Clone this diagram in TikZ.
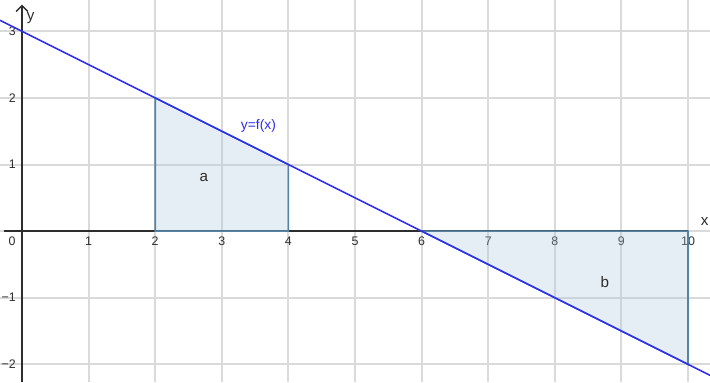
\documentclass[tikz,border=0pt]{standalone}
\usepackage{fontspec}
\setmainfont{Liberation Sans}
\usepackage{tikz}
\usetikzlibrary{arrows.meta, positioning, calc}
\definecolor{gridgray}{RGB}{218,218,218}
\definecolor{axisdark}{RGB}{45,45,45}
\definecolor{fblue}{RGB}{45,45,240}
\definecolor{areaedge}{RGB}{85,130,165}
\definecolor{areafill}{RGB}{170,200,220}
\tikzset{
  gridline/.style={draw, line width=0.85pt, color=gridgray},
  axis/.style={draw, line width=0.6pt, color=axisdark},
  tick/.style={font=\fontsize{5.3}{6}\selectfont, color=axisdark, inner sep=0.5pt},
  area/.style={draw=areaedge, line width=0.7pt, fill=areafill, fill opacity=0.3},
  graph/.style={draw, line width=0.65pt, color=fblue}
}

\begin{document}
\begin{tikzpicture}
  \useasboundingbox (-0.33,-2.27) rectangle (10.33,3.47);

  % ═══════════════════════════════════════════════════════════════════════════════
  % GRID
  % ═══════════════════════════════════════════════════════════════════════════════
  \foreach \x in {1,...,10}
    \draw[gridline] (\x,-2.27) -- (\x,3.47);
  \foreach \y in {-2,...,3}
    \draw[gridline] (-0.33,\y) -- (10.33,\y);

  % ═══════════════════════════════════════════════════════════════════════════════
  % AXES
  % ═══════════════════════════════════════════════════════════════════════════════
  \coordinate (xL) at (-0.27,0);
  \coordinate (xR) at (10,0);
  \coordinate (yB) at (0,-2.27);
  \coordinate (yT) at (0,3.4);
  \draw[axis] (xL) -- (xR);
  \draw[axis, -{Straight Barb[length=2.5pt, width=5pt]}] (yB) -- (yT);
  \node[font=\fontsize{6.5}{7}\selectfont, color=axisdark] (xlab) at (10.25,0.14) {x};
  \node[font=\fontsize{6.5}{7}\selectfont, color=axisdark] (ylab) at (0.13,3.2) {y};

  % Tick labels
  \node[tick] (t0) at (-0.15,-0.15) {0};
  \foreach \x in {1,...,10}
    \node[tick] (xt\x) at (\x,-0.15) {\x};
  \foreach \y in {1,2,3}
    \node[tick, anchor=east] (yt\y) at (-0.07,\y) {\y};
  \foreach \y in {-1,-2}
    \node[tick, anchor=east] (yt\y) at (-0.07,\y) {−\the\numexpr-\y\relax};

  % ═══════════════════════════════════════════════════════════════════════════════
  % SHADED AREAS a AND b
  % ═══════════════════════════════════════════════════════════════════════════════
  \draw[area] (2,0) -- (2,2) -- (4,1) -- (4,0) -- cycle;
  \draw[area] (6,0) -- (10,0) -- (10,-2) -- cycle;

  % ═══════════════════════════════════════════════════════════════════════════════
  % GRAPH y = f(x)
  % ═══════════════════════════════════════════════════════════════════════════════
  \coordinate (fL) at (-0.33,3.165);
  \coordinate (fR) at (10.33,-2.165);
  \draw[graph] (fL) -- (fR);
  \node[font=\fontsize{5.9}{7}\selectfont, color=fblue] (flab) at (3.55,1.58) {y=f(x)};

  \node[font=\fontsize{6.5}{7}\selectfont, color=axisdark] (alab) at (2.73,0.8) {a};
  \node[font=\fontsize{6.5}{7}\selectfont, color=axisdark] (blab) at (8.75,-0.77) {b};
\end{tikzpicture}
\end{document}
